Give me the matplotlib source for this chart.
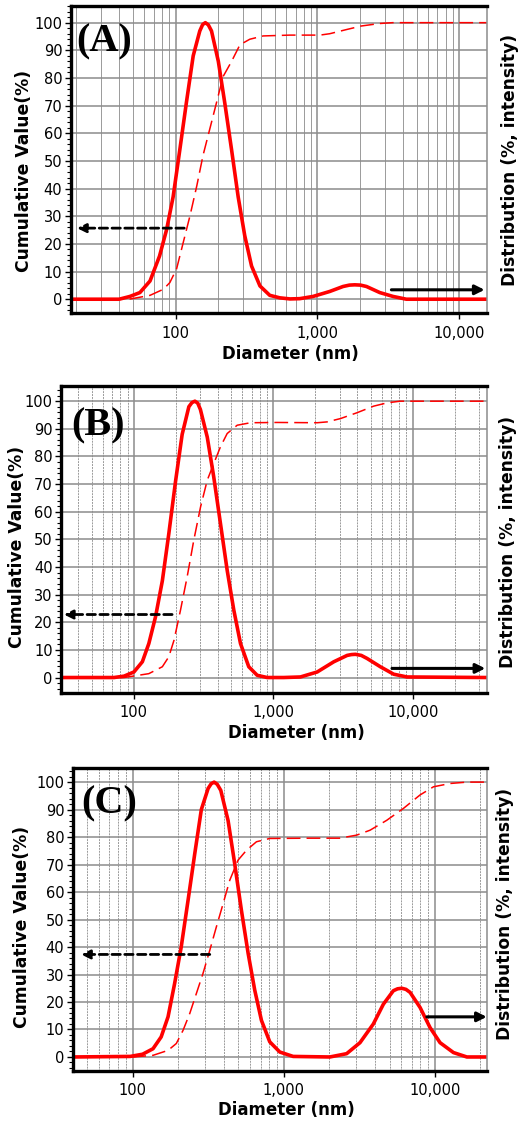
# DLS particle size distribution, three samples (A, B, C)

import matplotlib.pyplot as plt
from matplotlib.ticker import FixedLocator, FuncFormatter, MultipleLocator
import numpy as np

# ---- data -----------------------------------------------------------------

# (A)
dist_a_d = [18, 40, 47.6, 56, 66, 77, 86.4, 96, 107, 119, 133, 148, 155, 162, 170, 179,
            200, 222, 248, 276, 307, 343, 393, 461, 542, 640, 750, 931, 1220, 1515,
            1680, 1830, 2010, 2215, 2750, 3410, 4230, 15600]
dist_a_v = [0, 0, 1, 2.4, 6.6, 15.6, 25.2, 37, 54, 71, 88, 97, 99.3, 100, 99.2, 97,
            86, 71, 54, 37, 23, 12, 4.8, 1.4, 0.5, 0.1, 0.2, 1, 2.8, 4.6,
            5.1, 5.2, 5.1, 4.6, 2.4, 1, 0, 0]
cum_a_d = [18, 47, 66, 82, 91, 101.6, 113, 126, 141, 156, 175, 194, 216, 248,
           284, 333, 414, 638, 1040, 1220, 1600, 2040, 2750, 3390, 15600]
cum_a_v = [0, 0, 1.4, 3.6, 6, 11, 20.4, 30, 41, 52, 62, 71, 80.5, 86,
           92, 94, 95.2, 95.5, 95.5, 96, 97.5, 98.8, 99.7, 100, 100]

# (B)
dist_b_d = [30, 72, 85, 100, 115, 128, 143, 160, 178, 199, 222, 248, 261, 274, 287, 300,
            336, 374, 418, 467, 521, 582, 667, 767, 904, 1189, 1566, 2065, 2718,
            3388, 3630, 3884, 4280, 4710, 5865, 7310, 9120, 34000]
dist_b_v = [0, 0, 0.5, 2, 5.7, 12.3, 22, 35, 52, 71, 88, 98, 99.5, 100, 99.3, 97,
            87, 72.6, 55.7, 38.8, 24.4, 12.3, 3.9, 0.8, 0, 0, 0.2, 2, 5.7,
            8, 8.3, 8.4, 8, 6.9, 3.9, 1.2, 0.2, 0]
cum_b_d = [30, 85, 128, 160, 178, 194, 216, 241, 269, 301, 336, 374, 418, 467,
           551, 687, 1066, 2065, 2430, 3033, 3980, 5250, 6560, 8130, 34000]
cum_b_v = [0, 0, 1.4, 3.9, 7.5, 13.5, 24.4, 36.4, 49.7, 61.8, 71.4, 77.4, 83.5, 88.3,
           91.3, 92.2, 92.3, 92.2, 92.5, 93.7, 95.8, 98.2, 99.4, 100, 100]

# (C)
dist_c_d = [40, 96, 116, 136, 154, 171, 189, 209, 232, 257, 284, 315, 330, 345, 362, 382,
            427, 472, 523, 580, 641, 710, 806, 939, 1151, 2014, 2600, 3187, 3906,
            4552, 5300, 5650, 6025, 6420, 6840, 7966, 9270, 10800, 13250, 16250, 22000]
dist_c_v = [0, 0.2, 1, 3, 7.3, 14.6, 26.7, 40, 57, 74, 90, 97.7, 99.4, 100, 99.2, 97,
            86, 70.4, 53.4, 37.6, 24.3, 13.3, 5.5, 1.8, 0.2, 0, 1.2, 5.2, 12,
            19.2, 24.1, 24.8, 25, 24.6, 23.5, 18, 10.7, 5.2, 1.6, 0, 0]
cum_c_d = [40, 100, 136, 171, 194, 215, 238, 263, 291, 323, 357, 396, 438, 497,
           565, 658, 806, 1486, 2340, 3025, 3715, 4790, 6170, 7950, 9770, 12600,
           16300, 22000]
cum_c_v = [0, 0, 0.6, 2.4, 4.9, 9.7, 15.8, 23, 30.3, 38.8, 47.3, 55.8, 64.3, 71.6,
           75.2, 78.3, 79.5, 79.6, 79.6, 80.7, 82.5, 86.1, 90.4, 95.3, 98.3, 99.5,
           100, 100]

panel_labels = ['(A)', '(B)', '(C)']
x_ticks = [100, 1000, 10000]
y_ticks = list(range(0, 101, 10))

# ---- layout ------------------------------------------------------------------

fig = plt.figure(figsize=(5.22, 11.24), dpi=100)

panels = [
    dict(rect=[0.1354, 0.7215, 0.797, 0.2731], xlim=(18.2, 15600), ylim=(-5, 106),
         dist=(dist_a_d, dist_a_v), cum=(cum_a_d, cum_a_v), minor_ls='-',
         left_arrow=((115, 25.7), (20.2, 25.7)), right_arrow=((3320, 3.4), (15070, 3.4)),
         ylab=(-0.091, 0.463), rlab=(1.056, 0.5), xlab=(0.527, -0.104), tag=(0.013, 0.945)),
    dict(rect=[0.1169, 0.3837, 0.8155, 0.2729], xlim=(30, 34000), ylim=(-5.5, 105.5),
         dist=(dist_b_d, dist_b_v), cum=(cum_b_d, cum_b_v), minor_ls=(0, (2, 1)),
         left_arrow=((188, 22.8), (31.5, 22.8)), right_arrow=((7110, 3.3), (33200, 3.3)),
         ylab=(-0.0815, 0.475), rlab=(1.05, 0.49), xlab=(0.552, -0.102), tag=(0.025, 0.93)),
    dict(rect=[0.1393, 0.0474, 0.7943, 0.269], xlim=(40, 22200), ylim=(-5, 105),
         dist=(dist_c_d, dist_c_v), cum=(cum_c_d, cum_c_v), minor_ls=(0, (2, 1)),
         left_arrow=((323, 37.3), (45.5, 37.3)), right_arrow=((8830, 14.6), (22000, 14.6)),
         ylab=(-0.10, 0.476), rlab=(1.043, 0.52), xlab=(0.516, -0.1), tag=(0.02, 0.945)),
]

for p, tag in zip(panels, panel_labels):
    ax = fig.add_axes(p['rect'])
    ax.set_xscale('log')
    ax.set_xlim(*p['xlim'])
    ax.set_ylim(*p['ylim'])

    # grid
    ax.xaxis.set_major_locator(FixedLocator(x_ticks))
    minor_pos = [m * 10 ** e for e in range(1, 5) for m in range(2, 10)]
    ax.xaxis.set_minor_locator(FixedLocator(minor_pos))
    ax.xaxis.set_major_formatter(FuncFormatter(lambda v, pos: f'{int(v):,}'))
    ax.xaxis.set_minor_formatter(FuncFormatter(lambda v, pos: ''))
    ax.yaxis.set_major_locator(FixedLocator(y_ticks))
    ax.yaxis.set_minor_locator(MultipleLocator(2))
    ax.grid(which='major', color='#8c8c8c', lw=1.1)
    ax.grid(which='minor', axis='x', color='#9a9a9a', lw=0.7, linestyle=p['minor_ls'])
    ax.set_axisbelow(True)

    # curves
    ax.plot(*p['cum'], color='#ff0000', lw=1.1, dashes=(9, 4))
    ax.plot(*p['dist'], color='#ff0000', lw=2.6, solid_joinstyle='round')

    # arrows
    ax.annotate('', xy=p['left_arrow'][1], xytext=p['left_arrow'][0],
                arrowprops=dict(arrowstyle='-|>', color='k', lw=2,
                                linestyle=(0, (3, 1.6)), mutation_scale=13,
                                shrinkA=0, shrinkB=0))
    ax.annotate('', xy=p['right_arrow'][1], xytext=p['right_arrow'][0],
                arrowprops=dict(arrowstyle='-|>', color='k', lw=2.2,
                                mutation_scale=14, shrinkA=0, shrinkB=0))

    # spines and ticks
    for s in ['left', 'bottom', 'top']:
        ax.spines[s].set_linewidth(2.4)
    ax.spines['right'].set_color('#8c8c8c')
    ax.spines['right'].set_linewidth(1.1)
    ax.tick_params(axis='y', which='major', length=4, width=1, pad=2, labelsize=10.5)
    ax.tick_params(axis='y', which='minor', length=3, width=0.8)
    ax.tick_params(axis='x', which='major', length=4, width=1, pad=5, labelsize=10.5)
    ax.tick_params(axis='x', which='minor', length=0)

    # labels
    ax.set_ylabel('Cumulative Value(%)', fontsize=12.3, fontweight='bold')
    ax.yaxis.set_label_coords(*p['ylab'])
    ax.set_xlabel('Diameter (nm)', fontsize=12, fontweight='bold')
    ax.xaxis.set_label_coords(*p['xlab'])
    ax.text(p['rlab'][0], p['rlab'][1], 'Distribution (%, intensity)',
            transform=ax.transAxes, rotation=90, ha='center', va='center',
            fontsize=12.3, fontweight='bold')
    ax.text(p['tag'][0], p['tag'][1], tag, transform=ax.transAxes, ha='left', va='top',
            fontsize=29, fontweight='bold', family='Liberation Serif')

fig.savefig('out.png', dpi=100)
